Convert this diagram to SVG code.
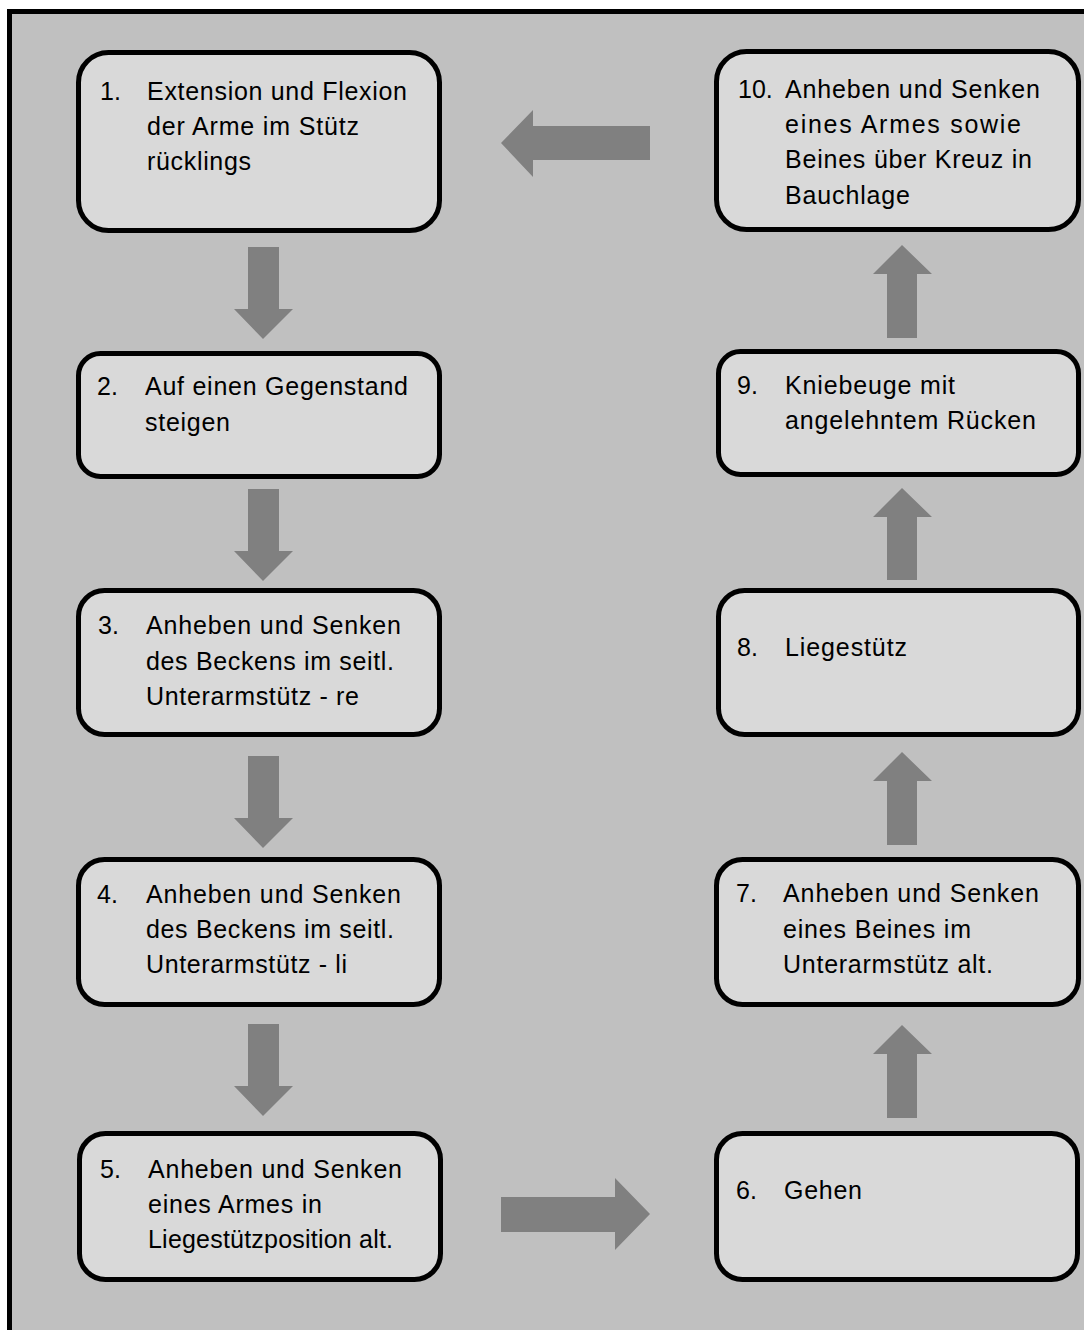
<svg xmlns="http://www.w3.org/2000/svg" width="1084" height="1330" viewBox="0 0 1084 1330">
<style>
.frame{fill:#c0c0c0;stroke:#000;stroke-width:5}
.box{fill:#d9d9d9;stroke:#000;stroke-width:5}
.arr{fill:#808080}
text{font-family:"Liberation Sans",Arial,sans-serif;font-size:25px;fill:#000}
</style>
<rect x="0" y="0" width="1084" height="1330" fill="#fff"/>
<rect class="frame" x="9.5" y="11.5" width="1100" height="1340"/>
<g id="connectors">
<polygon class="arr" points="248,247 279,247 279,309 293,309 263,339 234,309 248,309"/>
<polygon class="arr" points="248,489 279,489 279,551 293,551 263,581 234,551 248,551"/>
<polygon class="arr" points="248,756 279,756 279,818 293,818 263,848 234,818 248,818"/>
<polygon class="arr" points="248,1024 279,1024 279,1086 293,1086 263,1116 234,1086 248,1086"/>
<polygon class="arr" points="501,1197 615,1197 615,1178 650,1214 615,1250 615,1232 501,1232"/>
<polygon class="arr" points="887,1118 917,1118 917,1054 932,1054 902,1025 873,1054 887,1054"/>
<polygon class="arr" points="887,845 917,845 917,781 932,781 902,752 873,781 887,781"/>
<polygon class="arr" points="887,580 917,580 917,517 932,517 902,488 873,517 887,517"/>
<polygon class="arr" points="887,338 917,338 917,274 932,274 902,245 873,274 887,274"/>
<polygon class="arr" points="650,126 650,160 533,160 533,177 501,143 533,110 533,126"/>
</g>
<g id="node1">
<rect class="box" x="78.5" y="52.5" width="361" height="178" rx="30"/>
<text x="100" y="100">1.</text>
<text x="147" y="100" textLength="260">Extension und Flexion</text>
<text x="147" y="135" textLength="212">der Arme im Stütz</text>
<text x="147" y="170" textLength="104">rücklings</text>
</g>
<g id="node2">
<rect class="box" x="78.5" y="353.5" width="361" height="123" rx="22"/>
<text x="97" y="395">2.</text>
<text x="145" y="395" textLength="263">Auf einen Gegenstand</text>
<text x="145" y="431" textLength="85">steigen</text>
</g>
<g id="node3">
<rect class="box" x="78.5" y="590.5" width="361" height="144" rx="26"/>
<text x="98" y="634">3.</text>
<text x="146" y="634" textLength="255">Anheben und Senken</text>
<text x="146" y="670" textLength="248">des Beckens im seitl.</text>
<text x="146" y="705" textLength="213">Unterarmstütz - re</text>
</g>
<g id="node4">
<rect class="box" x="78.5" y="859.5" width="361" height="145" rx="26"/>
<text x="97" y="903">4.</text>
<text x="146" y="903" textLength="255">Anheben und Senken</text>
<text x="146" y="938" textLength="248">des Beckens im seitl.</text>
<text x="146" y="973" textLength="201">Unterarmstütz - li</text>
</g>
<g id="node5">
<rect class="box" x="79.5" y="1133.5" width="361" height="146" rx="26"/>
<text x="100" y="1178">5.</text>
<text x="148" y="1178" textLength="254">Anheben und Senken</text>
<text x="148" y="1213" textLength="174">eines Armes in</text>
<text x="148" y="1248" textLength="245">Liegestützposition alt.</text>
</g>
<g id="node6">
<rect class="box" x="716.5" y="1133.5" width="361" height="146" rx="26"/>
<text x="736" y="1199">6.</text>
<text x="784" y="1199" textLength="78">Gehen</text>
</g>
<g id="node7">
<rect class="box" x="716.5" y="859.5" width="362" height="145" rx="26"/>
<text x="736" y="902">7.</text>
<text x="783" y="902" textLength="256">Anheben und Senken</text>
<text x="783" y="938" textLength="188">eines Beines im</text>
<text x="783" y="973" textLength="210">Unterarmstütz alt.</text>
</g>
<g id="node8">
<rect class="box" x="718.5" y="590.5" width="360" height="144" rx="26"/>
<text x="737" y="656">8.</text>
<text x="785" y="656" textLength="122">Liegestütz</text>
</g>
<g id="node9">
<rect class="box" x="718.5" y="351.5" width="360" height="123" rx="22"/>
<text x="737" y="394">9.</text>
<text x="785" y="394" textLength="170">Kniebeuge mit</text>
<text x="785" y="429" textLength="251">angelehntem Rücken</text>
</g>
<g id="node10">
<rect class="box" x="716.5" y="51.5" width="362" height="178" rx="30"/>
<text x="738" y="98">10.</text>
<text x="785" y="98" textLength="255">Anheben und Senken</text>
<text x="785" y="133" textLength="236">eines Armes sowie</text>
<text x="785" y="168" textLength="247">Beines über Kreuz in</text>
<text x="785" y="204" textLength="125">Bauchlage</text>
</g>
</svg>
